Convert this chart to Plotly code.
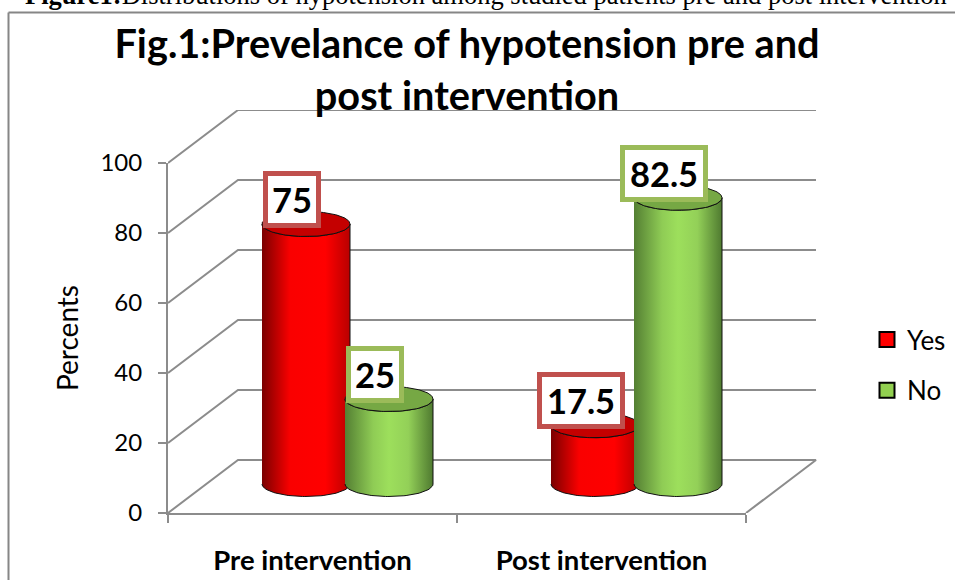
import numpy as np
import plotly.graph_objects as go

categories = ["Pre intervention", "Post intervention"]
yes_values = [75, 17.5]
no_values = [25, 82.5]
y_ticks = [0, 20, 40, 60, 80, 100]
title_text = "Fig.1:Prevelance of hypotension pre and<br>post intervention"
caption_bold = "Figure1:"
caption_rest = "Distributions of hypotension among studied patients pre and post intervention"

W, H = 955, 580
# outer plot box holds the back wall; the inner axes hold the front plane
L, R, T, B = 168, 138, 110, 67
FRONT_W, FRONT_H = 578, 350
PX_X = FRONT_W / 2
PX_Y = FRONT_H / 100
FONT = "Lato"
GRID = "#8c8c8c"

DEPTH_X = 70 / PX_X
DEPTH_Y = 53 / PX_Y
MID_X = 35 / PX_X
MID_Y = 29 / PX_Y
TOP_Y = 26.5 / PX_Y
HALF_W = 44 / PX_X
OFFSET = 41.5 / PX_X
RY = 12.5 / PX_Y

RED_BODY = [[0, "#7a0000"], [0.32, "#fa0000"], [0.72, "#ff0000"], [1, "#b80000"]]
GREEN_BODY = [[0, "#547f33"], [0.32, "#8fcc55"], [0.5, "#9ddf5c"], [0.72, "#93d058"], [1, "#4f7a30"]]


def px(x):
    return (x - L) / (W - L - R)


def py(y):
    return (H - B - y) / (H - T - B)


fig = go.Figure()

# 3-D wall grid and floor, on the full-size hidden axes
for v in y_ticks:
    fig.add_trace(go.Scatter(
        x=[0, DEPTH_X, 2 + DEPTH_X] + ([2] if v == 0 else []),
        y=[v, v + DEPTH_Y, v + DEPTH_Y] + ([0] if v == 0 else []),
        xaxis="x", yaxis="y",
        mode="lines", line=dict(color=GRID, width=2),
        showlegend=False, hoverinfo="skip"))


def cylinder(cx, value, body_scale, top_color, name):
    xc = cx + MID_X
    y0 = MID_Y
    y1 = value + TOP_Y
    t = np.linspace(0, np.pi, 60)
    ax, ay = HALF_W * np.cos(t), RY * np.sin(t)
    bx = np.concatenate([xc - ax, xc + ax])
    by = np.concatenate([y0 - ay, y1 - ay])
    fig.add_trace(go.Scatter(
        x=bx, y=by, xaxis="x2", yaxis="y2", mode="lines", fill="toself",
        fillgradient=dict(type="horizontal", colorscale=body_scale),
        line=dict(color="#101010", width=1), showlegend=False,
        hoverinfo="skip", name=name))
    t = np.linspace(0, 2 * np.pi, 120)
    fig.add_trace(go.Scatter(
        x=xc + HALF_W * np.cos(t), y=y1 + RY * np.sin(t),
        xaxis="x2", yaxis="y2", mode="lines",
        fill="toself", fillcolor=top_color,
        line=dict(color="#101010", width=1), showlegend=False,
        hoverinfo="skip", name=name))


annotations = []


def label(cx, value, border):
    txt = f"{value:g}"
    annotations.append(dict(
        x=cx + MID_X, y=value + TOP_Y, xref="x2", yref="y2", text=f"<b>{txt}</b>",
        showarrow=False, xshift=-14, yshift=24.5,
        font=dict(family=FONT, size=34.5, color="#000000"),
        bgcolor="#ffffff", bordercolor=border, borderwidth=5, borderpad=1,
        width=76 if len(txt) > 2 else 46, height=45))


for i, _ in enumerate(categories):
    cylinder(i + 0.5 - OFFSET, yes_values[i], RED_BODY, "#c40000", "Yes")
    cylinder(i + 0.5 + OFFSET, no_values[i], GREEN_BODY, "#76a844", "No")
for i, _ in enumerate(categories):
    label(i + 0.5 - OFFSET, yes_values[i], "#c0504d")
    label(i + 0.5 + OFFSET, no_values[i], "#9bbb59")

# legend keys
for name, col in [("Yes", "#ff0000"), ("No", "#92d050")]:
    fig.add_trace(go.Scatter(
        x=[None], y=[None], xaxis="x2", yaxis="y2", mode="markers", name=name, legendgroup=name,
        marker=dict(symbol="square", size=15, color=col, line=dict(color="#000000", width=2))))

# caption, clipped by the top of the page
annotations.append(dict(
    xref="paper", yref="paper", x=px(486), y=py(-5.5),
    xanchor="center", yanchor="middle", showarrow=False,
    text=f"<b>{caption_bold}</b>{caption_rest}",
    font=dict(family="Liberation Serif", size=26.5, color="#000000")))

shapes = [
    dict(type="line", xref="paper", yref="paper", x0=px(8.5), x1=px(W), y0=py(12.5), y1=py(12.5),
         line=dict(color="#868686", width=2)),
    dict(type="line", xref="paper", yref="paper", x0=px(8.5), x1=px(8.5), y0=py(12.5), y1=py(H),
         line=dict(color="#868686", width=2)),
]

fig.update_layout(
    width=W, height=H, margin=dict(l=L, r=R, t=T, b=B, pad=0, autoexpand=False),
    paper_bgcolor="#ffffff", plot_bgcolor="rgba(0,0,0,0)",
    title=dict(text=f"<b>{title_text}</b>", x=467 / W, xanchor="center",
               y=1 - 58 / H, yanchor="middle",
               font=dict(family=FONT, size=39.7, color="#000000")),
    xaxis=dict(domain=[0, 1], range=[0, (W - L - R) / PX_X], visible=False, automargin=False),
    yaxis=dict(domain=[0, 1], range=[0, (H - T - B) / PX_Y], visible=False, automargin=False),
    xaxis2=dict(domain=[0, FRONT_W / (W - L - R)], anchor="y2",
                range=[0, 2], showgrid=False, zeroline=False, showline=True, automargin=False,
                linecolor=GRID, linewidth=2, ticks="", ticklen=0,
                tickmode="array", tickvals=[0.5, 1.5], ticktext=[f"<b>{c}</b>" for c in categories],
                ticklabelstandoff=22, tickfont=dict(family=FONT, size=27.5, color="#000000"),
                minor=dict(tickmode="array", tickvals=[0, 1, 2], ticks="outside", ticklen=8,
                           tickcolor=GRID, tickwidth=2)),
    yaxis2=dict(domain=[0, FRONT_H / (H - T - B)], anchor="x2",
                range=[0, 100], tickvals=y_ticks, showgrid=False, zeroline=False, automargin=False,
                showline=True, linecolor=GRID, linewidth=2, ticks="outside", ticklen=8,
                tickcolor=GRID, tickwidth=2, ticklabelstandoff=11,
                tickfont=dict(family=FONT, size=24, color="#000000"),
                title=dict(text="Percents", standoff=14,
                           font=dict(family=FONT, size=28, color="#000000"))),
    legend=dict(xref="container", yref="container", x=867 / W, y=1 - 316 / H,
                xanchor="left", yanchor="top", tracegroupgap=14,
                font=dict(family=FONT, size=26, color="#000000"), bgcolor="rgba(0,0,0,0)"),
    annotations=annotations, shapes=shapes, showlegend=True,
)

fig.write_html("out.html", post_script="document.body.style.margin='0';",
               config=dict(displayModeBar=False))
